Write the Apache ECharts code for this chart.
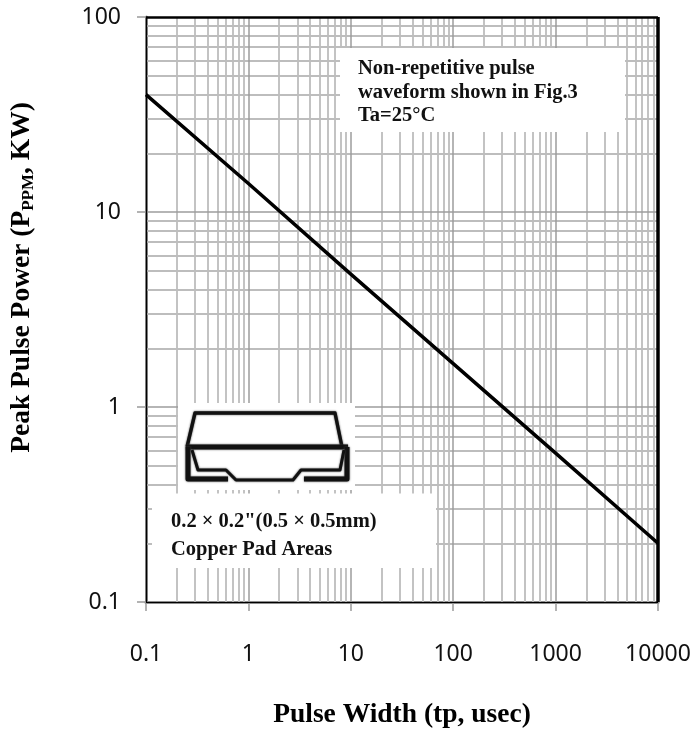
<!DOCTYPE html>
<html>
<head>
<meta charset="utf-8">
<style>html,body{margin:0;padding:0;background:#fff}#c{width:694px;height:731px}</style>
<script src="https://cdn.jsdelivr.net/npm/echarts@6/dist/echarts.min.js"></script>
</head>
<body>
<div id="c"></div>
<script>
const pulseWidth = [0.1, 1, 10, 100, 1000, 10000];
const peakPower = [40, 14, 4.8, 1.67, 0.58, 0.2];
const xTickLabels = ['0.1', '1', '10', '100', '1000', '10000'];
const yTickLabels = ['0.1', '1', '10', '100'];
const xDecades = [0.1, 1, 10, 100, 1000];
const yDecades = [0.1, 1, 10];
const multipliers = [2, 3, 4, 5, 6, 7, 8, 9];
const xTitle = 'Pulse Width (tp, usec)';
const noteLines = ['Non-repetitive pulse', 'waveform shown in Fig.3', 'Ta=25°C'];
const padLines = ['0.2 × 0.2"(0.5 × 0.5mm)', 'Copper Pad Areas'];

const minorOf = ds => ds.flatMap(d => multipliers.map(m => +(d * m).toPrecision(3)));
const serif = '"Liberation Serif"';
const sans = '"Noto Sans"';

function vLines(vals) { return vals.map(v => ({ xAxis: v })); }
function hLines(vals) { return vals.map(v => ({ yAxis: v })); }
function lineSeries(name, data, color, width, z) {
  return {
    name, type: 'line', data: [], silent: true, z,
    markLine: {
      silent: true, symbol: 'none', animation: false, label: { show: false },
      lineStyle: { color, width, type: 'solid' }, data, z
    }
  };
}

const chart = echarts.init(document.getElementById('c'), null, { renderer: 'canvas' });
chart.setOption({
  animation: false,
  backgroundColor: '#fff',
  grid: { left: 146, right: 36, top: 17, bottom: 129, outerBoundsMode: 'none' },
  xAxis: {
    type: 'log', logBase: 10, min: 0.1, max: 10000,
    name: xTitle, nameLocation: 'middle', nameGap: 99,
    nameTextStyle: { fontFamily: serif, fontWeight: 'bold', fontSize: 27.5, color: '#000' },
    axisLine: { onZero: false, lineStyle: { color: '#8c8c8c', width: 3 } },
    axisTick: { length: 9, lineStyle: { color: '#9a9a9a', width: 1.5 } },
    minorTick: { show: false }, splitLine: { show: false },
    axisLabel: { margin: 41, fontFamily: sans, fontSize: 23, color: '#111', hideOverlap: false,
      formatter: (v, i) => xTickLabels[i] }
  },
  yAxis: {
    type: 'log', logBase: 10, min: 0.1, max: 100,
    name: '{m|Peak Pulse Power (P}{s|PPM}{m|, KW)}', nameLocation: 'middle', nameGap: 109, nameRotate: 90,
    nameTextStyle: { padding: [0, 0, 0, 64], rich: {
      m: { fontFamily: serif, fontWeight: 'bold', fontSize: 27.5, color: '#000', lineHeight: 30 },
      s: { fontFamily: serif, fontWeight: 'bold', fontSize: 17, color: '#000', lineHeight: 30, verticalAlign: 'bottom', padding: [8, 0, 0, 0] }
    } },
    axisLine: { onZero: false, lineStyle: { color: '#8c8c8c', width: 3 } },
    axisTick: { length: 9, lineStyle: { color: '#9a9a9a', width: 1.5 } },
    minorTick: { show: false }, splitLine: { show: false },
    axisLabel: { margin: 25, fontFamily: sans, fontSize: 23, color: '#111',
      formatter: (v, i) => yTickLabels[i] }
  },
  series: [
    lineSeries('xMinorGrid', vLines(minorOf(xDecades)), '#bdbdbd', 1.8, 1),
    lineSeries('yMinorGrid', hLines(minorOf(yDecades)), '#bdbdbd', 1.8, 1),
    lineSeries('xMajorGrid', vLines(xDecades.slice(1).concat([10000])), '#9c9c9c', 1.5, 2),
    lineSeries('yMajorGrid', hLines([1, 10]), '#9c9c9c', 1.5, 2),
    lineSeries('frameTopRight', [{ yAxis: 100 }], '#000', 2.5, 3),
    lineSeries('frameRight', [{ xAxis: 10000 }], '#000', 3.5, 3),
    lineSeries('frameBottomLeft', [{ yAxis: 0.1 }, { xAxis: 0.1 }], '#000', 1.2, 3),
    {
      name: 'Peak Pulse Power', type: 'line', data: pulseWidth.map((x, i) => [x, peakPower[i]]),
      symbol: 'none', silent: true, z: 4,
      lineStyle: { color: '#000', width: 3.5 }
    }
  ],
  graphic: { elements: [
    { type: 'rect', z: 100, shape: { x: 340, y: 48, width: 285, height: 84 }, style: { fill: '#fff' } },
    { type: 'rect', z: 100, shape: { x: 178, y: 403, width: 177, height: 87 }, style: { fill: '#fff' } },
    { type: 'rect', z: 100, shape: { x: 152, y: 493.5, width: 284, height: 74.5 }, style: { fill: '#fff' } },
    ...noteLines.map((t, i) => ({ type: 'text', z: 101, x: 358, y: 69 + i * 23.5,
      style: { text: t, fontFamily: serif, fontWeight: 'bold', fontSize: 20.5, fill: '#111', verticalAlign: 'middle' } })),
    ...padLines.map((t, i) => ({ type: 'text', z: 101, x: 171, y: 522 + i * 28,
      style: { text: t, fontFamily: serif, fontWeight: 'bold', fontSize: 20.5, fill: '#111', verticalAlign: 'middle' } })),
    ...[
      { w: 3.4, p: [[187, 447], [195, 413], [335, 413], [342, 447]] },
      { w: 5, p: [[186, 447], [348, 447]] },
      { w: 5, p: [[188, 447], [188, 479], [228, 479]] },
      { w: 5, p: [[347, 447], [347, 479], [304, 479]] },
      { w: 3, p: [[192, 450], [198, 470], [226, 470], [236, 480], [293, 480], [301, 470], [340, 470], [344, 450]] }
    ].map(o => ({ type: 'polyline', z: 102, shape: { points: o.p },
      style: { stroke: '#111', lineWidth: o.w, fill: null, lineJoin: 'round', shadowBlur: 2, shadowColor: '#444' } }))
  ] }
});
</script>
</body>
</html>
